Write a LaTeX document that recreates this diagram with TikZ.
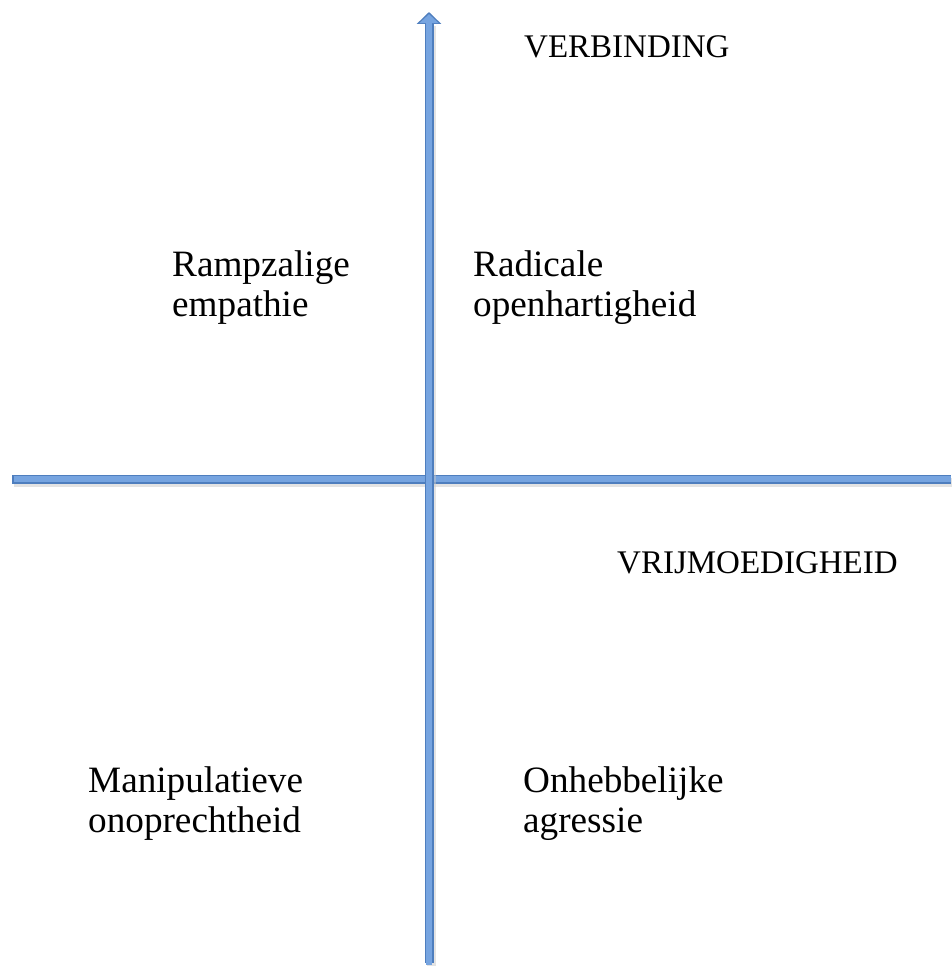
\documentclass[tikz,border=0pt]{standalone}
\usepackage{fontspec}
\setmainfont{Liberation Serif}
\usepackage{xcolor}
\usepackage{tikz}
\usetikzlibrary{arrows.meta}
\definecolor{AxisEdge}{RGB}{78, 126, 190}
\definecolor{AxisFill}{RGB}{118, 164, 224}
\definecolor{AxisShade}{RGB}{200, 200, 200}

\tikzset{
  quadlabel/.style={anchor=base west, inner sep=0pt, align=left,
    font=\fontsize{37.2}{40}\selectfont},
  axislabel/.style={anchor=base west, inner sep=0pt,
    font=\fontsize{33}{38}\selectfont},
  axisedge/.style={draw=AxisEdge, line width=9pt},
  axisfill/.style={draw=AxisFill, line width=5.5pt},
  axisshade/.style={draw=AxisShade, line width=9pt, opacity=0.5}
}

\begin{document}
\begin{tikzpicture}[x=1pt, y=-1pt]
  \useasboundingbox (0,0) rectangle (951,966);

  % axis ends
  \coordinate (top) at (429,12);
  \coordinate (bottom) at (429,963);
  \coordinate (left) at (12,479);
  \coordinate (right) at (951,479);

  % horizontal axis
  \draw[axisshade] ([shift={(1.5,3)}]left) -- ([shift={(1.5,3)}]right);
  \draw[axisedge] (left) -- (right);
  \draw[axisfill] ([xshift=1.7pt]left) -- (right);

  % vertical axis with arrow
  \draw[axisshade] ([shift={(2,3)}]bottom) -- ([shift={(2,14)}]top);
  \draw[axisedge, -{Triangle[length=12pt, width=24pt]}] (bottom) -- (top);
  \draw[axisfill, -{Triangle[length=9pt, width=19pt]}, shorten >=2.2pt]
    ([yshift=-1.7pt]bottom) -- (top);

  % axis names
  \node[axislabel] (verbinding) at (524,57) {VERBINDING};
  \node[axislabel] (vrijmoedigheid) at (617,573) {VRIJMOEDIGHEID};

  % quadrants (base = last line)
  \node[quadlabel] (rampzalig) at (172,316) {Rampzalige\\empathie};
  \node[quadlabel] (radicaal) at (473,316) {Radicale\\openhartigheid};
  \node[quadlabel] (manipulatief) at (88,832) {Manipulatieve\\onoprechtheid};
  \node[quadlabel] (onhebbelijk) at (523,832) {Onhebbelijke\\agressie};
\end{tikzpicture}
\end{document}
